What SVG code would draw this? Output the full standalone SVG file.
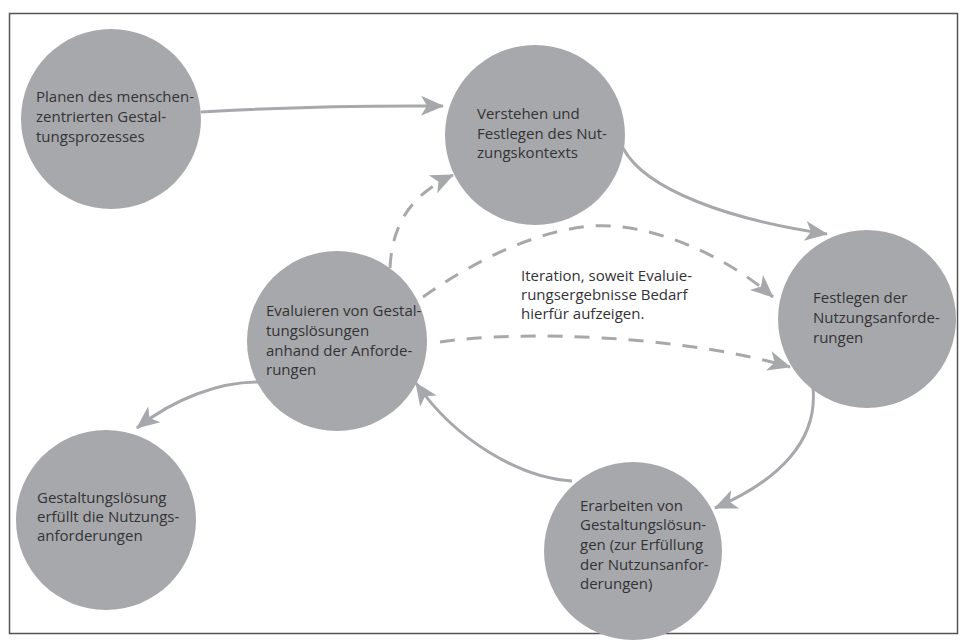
<svg xmlns="http://www.w3.org/2000/svg" width="967" height="643" viewBox="0 0 967 643">
<defs>
<style>
.node circle{fill:#a7a8ab}
.node text, .lbl{font-family:"Open Sans","Noto Sans","Liberation Sans",sans-serif;font-size:15px;fill:#333336}
.c{fill:none;stroke:#a7a8ab;stroke-width:3}
.d{stroke-dasharray:15 12}
</style>
<marker id="ah" viewBox="-24 -12 26 24" refX="0" refY="0" markerWidth="26" markerHeight="24" markerUnits="userSpaceOnUse" orient="auto">
<path d="M1,0 L-22,-10 L-16,0 L-22,10 Z" fill="#a7a8ab"/>
</marker>
</defs>
<rect x="9.5" y="13.5" width="948" height="620" fill="#fff" stroke="#555" stroke-width="1.5"/>
<g id="n1" class="node"><circle cx="111" cy="119" r="90"/>
<text x="36"><tspan x="36" y="102">Planen des menschen-</tspan><tspan x="36" y="122">zentrierten Gestal-</tspan><tspan x="36" y="142">tungsprozesses</tspan></text></g>
<g id="n2" class="node"><circle cx="535" cy="135" r="90"/>
<text><tspan x="477" y="119">Verstehen und</tspan><tspan x="477" y="139">Festlegen des Nut-</tspan><tspan x="477" y="158">zungskontexts</tspan></text></g>
<g id="n3" class="node"><circle cx="867" cy="319" r="89"/>
<text><tspan x="813" y="303">Festlegen der</tspan><tspan x="813" y="323">Nutzungsanforde-</tspan><tspan x="813" y="343">rungen</tspan></text></g>
<g id="n4" class="node"><circle cx="633" cy="551" r="89"/>
<text><tspan x="580" y="511">Erarbeiten von</tspan><tspan x="580" y="530">Gestaltungslösun-</tspan><tspan x="580" y="550">gen (zur Erfüllung</tspan><tspan x="580" y="570">der Nutzunsanfor-</tspan><tspan x="580" y="589">derungen)</tspan></text></g>
<g id="n5" class="node"><circle cx="337" cy="341" r="90"/>
<text><tspan x="266" y="316">Evaluieren von Gestal-</tspan><tspan x="266" y="336">tungslösungen</tspan><tspan x="266" y="356">anhand der Anforde-</tspan><tspan x="266" y="375">rungen</tspan></text></g>
<g id="n6" class="node"><circle cx="106" cy="520" r="90"/>
<text><tspan x="37" y="503">Gestaltungslösung</tspan><tspan x="37" y="522">erfüllt die Nutzungs-</tspan><tspan x="37" y="541">anforderungen</tspan></text></g>
<g id="connectors">
<path class="c" d="M201,112 Q320,105 443,106" marker-end="url(#ah)"/>
<path class="c" d="M623,148 C645,190 730,220 827,234" marker-end="url(#ah)"/>
<path class="c" d="M813,388 C818,440 780,480 715,508" marker-end="url(#ah)"/>
<path class="c" d="M572,481 C520,478 455,440 416,383" marker-end="url(#ah)"/>
<path class="c" d="M258,382 C220,382 175,398 137,428" marker-end="url(#ah)"/>
<path class="c d" d="M390,268 C392,225 410,195 453,175" marker-end="url(#ah)"/>
<path class="c d" d="M423,297 C450,278 520,232 592,226 C650,222 725,255 773,297" marker-end="url(#ah)"/>
<path class="c d" d="M440,342 C520,330 680,335 790,367" marker-end="url(#ah)"/>
</g>
<text class="lbl"><tspan x="521" y="281">Iteration, soweit Evaluie-</tspan><tspan x="521" y="300">rungsergebnisse Bedarf</tspan><tspan x="521" y="319">hierfür aufzeigen.</tspan></text>
</svg>
